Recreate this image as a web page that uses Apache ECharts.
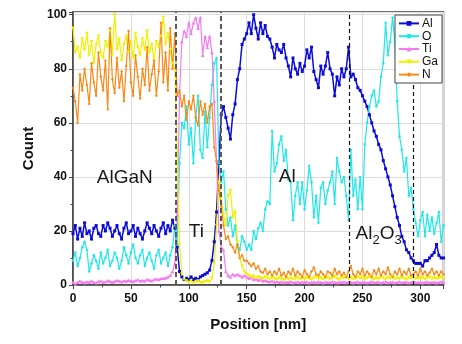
<!DOCTYPE html>
<html><head><meta charset="utf-8">
<script src="https://cdn.jsdelivr.net/npm/echarts@6/dist/echarts.min.js"></script>
<style>html,body{margin:0;padding:0;background:#fff}#c{width:462px;height:344px}</style>
</head><body><div id="c"></div>
<script>
// Position [nm] sampling grid
const positions = [
0,2,4,6,8,10,12,14,16,18,
20,22,24,26,28,30,32,34,36,38,
40,42,44,46,48,50,52,54,56,58,
60,62,64,66,68,70,72,74,76,78,
80,82,84,86,88,90,92,94,96,98,
100,102,104,106,108,110,112,114,116,118,
120,122,124,126,128,130,132,134,136,138,
140,142,144,146,148,150,152,154,156,158,
160,162,164,166,168,170,172,174,176,178,
180,182,184,186,188,190,192,194,196,198,
200,202,204,206,208,210,212,214,216,218,
220,222,224,226,228,230,232,234,236,238,
240,242,244,246,248,250,252,254,256,258,
260,262,264,266,268,270,272,274,276,278,
280,282,284,286,288,290,292,294,296,298,
300,302,304,306,308,310,312,314,316,318,
320];

const alCounts = [
19,22,17,21,18,23,19,20,17,21,
22,19,18,22,20,23,21,18,20,22,
19,17,21,23,19,20,22,18,21,19,
17,20,23,21,19,22,20,18,21,23,
19,22,20,24,21,14,5,3,2,2.5,
2,3,2,2.5,2,3,3.5,4,4.5,5.5,
9,16,27,45,63,66,62,58,54,63,
67,76,80,89,91,93,97,93,100,95,
91,97,93,96,92,91,88,84,89,87,
86,89,84,81,77,84,80,78,82,79,
81,87,84,88,79,76,73,81,78,81,
86,80,78,70,77,74,80,77,80,88,
77,78,76,73,72,70,68,66,63,60,
57,55,52,50,46,43,40,37,33,29,
25,22,18,16,13,12,10,9,8,8,
8,7,9,9,10,11,12,15,11,10,
10];

const oCounts = [
9,12,7,10,14,16,13,5,8,11,
9,6,12,8,10,13,7,9,12,10,
6,9,14,11,8,12,15,10,8,11,
13,7,10,12,9,6,11,13,8,10,
12,7,11,14,22,15,45,60,58,66,
52,58,45,62,70,50,47,64,51,62,
74,82,84,45,38,42,28,22,25,18,
22,15,13,18,16,13,15,13,20,17,
21,23,20,28,31,30,57,42,45,52,
55,46,50,39,38,24,33,38,30,38,
28,35,44,38,25,33,23,36,38,30,
35,38,42,30,47,42,38,40,33,24,
50,33,39,28,40,28,52,60,66,70,
72,66,68,77,82,97,85,90,99,90,
68,55,50,42,47,33,36,28,23,18,
24,27,18,26,20,25,19,23,27,16,
22];

const tiCounts = [
1,0.5,1,1.5,1,0.8,1.2,1,1.5,1,
0.8,1.3,1.5,1,1.2,1.6,1.4,1,1.3,1.7,
1.5,1.2,1.6,1.4,1.8,1.5,1.3,1.6,1.9,1.5,
1.7,1.5,2,1.8,1.6,2,2.2,2,2.4,2.5,
2.6,3,3.5,5,8,26,70,90,94,92,
97,93,97,99,95,99,85,92,88,92,
86,68,46,20,14,13,5,3.5,3,4,
3.5,4,3.5,3,3.5,3,2.5,2.8,2,2.2,
1.8,2,1.5,1.7,1.4,1.2,1.5,1.1,1.3,1,
1.2,0.9,1.1,1,1.3,0.8,1,1.2,0.9,1.1,
1,1.2,0.8,1,1.1,0.9,1.2,1,0.8,1.1,
1,0.9,1.2,1,0.8,1.1,1,1.2,0.9,1,
1.1,0.8,1,1.2,0.9,1,1.1,0.8,1,1.2,
0.9,1,1.1,0.8,1,1.2,0.9,1,1.1,0.8,
1,1.2,0.9,1,1.1,0.8,1,1.2,0.9,1,
1.1,0.8,1,1.2,0.9,1,1.1,0.8,1,1.2,
1];

const gaCounts = [
95,86,88,84,91,87,93,85,90,82,
89,92,86,84,90,88,94,85,100,87,
91,83,89,92,86,90,84,93,88,85,
91,87,94,86,89,83,90,88,92,99,
89,93,87,82,80,48,15,4,2,1.5,
1,1.5,0.8,1,1.5,1,0.8,1.2,1.5,1.2,
2.5,8,22,38,32,26,22,33,35,25,
27,16,10,7,5,4,3.5,3,3.2,2.5,
3,2.6,2.4,3,2.5,2.2,2.8,2.4,2,2.6,
2.3,1.8,2.5,2.2,2.8,2,2.4,2.7,2.1,2.5,
2.2,2.8,2.4,2,2.6,3,2.3,2.7,2.1,2.5,
2.9,2.2,2.6,3.1,2.4,2,2.8,2.5,3,2.3,
2.7,2.1,2.5,3,2.4,2.8,2.2,2.6,3.1,2.4,
2,2.7,2.3,2.9,2.5,2.1,2.8,2.4,3,2.2,
2.6,2.3,2.9,2.5,2,2.7,2.4,3,2.2,2.6,
2.4,2.8,2.1,2.6,3,2.3,2.7,2.2,2.5,2.9,
2.4];

const nCounts = [
73,68,60,78,72,80,74,67,82,75,
70,86,77,72,83,65,95,76,71,84,
73,79,68,81,94,75,70,85,77,69,
80,74,88,72,78,83,70,79,97,75,
86,72,95,80,93,70,72,66,70,61,
68,65,70,62,59,68,63,67,60,66,
67,51,46,35,29,22,17,18,15,14,
12,15,10,11,9,9,8,7,8,6,
7,5,4.5,6,4,5,3.5,5,4,6,
3.5,4.5,3,5,4,6,3.5,5,4,3,
5.5,4,3,5,6.5,4,3.5,5,4,3,
5,4.5,3.5,6,4,5,3.5,4.5,3,5,
7,4,3,5,4,6,3.5,5,4,3,
5.5,4,6,3.5,5,4,6.5,4,3,5,
4,6,3.5,5,4,6,3.5,4,5,3.5,
6,4,5,3.5,4.5,6,4,5,3.5,5,
4];

const seriesNames = ['Al', 'O', 'Ti', 'Ga', 'N'];
const xTicks = [0, 50, 100, 150, 200, 250, 300];
const yTicks = [0, 20, 40, 60, 80, 100];
const boundaries = [89, 127.5, 239, 293.5];
const lastBoundaryTop = 75;
const regionNames = ['AlGaN', 'Ti', 'Al', 'Al2O3'];
const regionAnchors = [[44.7, 39.8], [106.6, 19.8], [185, 40], [264, 19.5]];

const FONT = '"Liberation Sans", Arial, sans-serif';

function mk(name, vals, color, symbol, size, width, rotate) {
  return {
    name: name, type: 'line',
    data: positions.map((x, i) => [x, vals[i]]),
    symbol: symbol, symbolSize: size, symbolRotate: rotate || 0,
    showSymbol: true, showAllSymbol: true,
    lineStyle: { color: color, width: width },
    itemStyle: { color: color },
    emphasis: { disabled: true },
    animation: false
  };
}

const chart = echarts.init(document.getElementById('c'), null, { renderer: 'canvas' });
const dashGrey = { color: '#5a5a5a', width: 2, type: [5, 3] };
const dashBlack = { color: '#111', width: 1.2, type: [4, 3] };

chart.setOption({
  animation: false,
  backgroundColor: '#fff',
  textStyle: { fontFamily: FONT },
  grid: { left: 73, right: 18.5, top: 12, bottom: 59, show: true, borderColor: '#444', borderWidth: 1.5, backgroundColor: 'transparent' },
  legend: {
    data: seriesNames, orient: 'vertical', right: 20, top: 15,
    itemWidth: 20, itemHeight: 6, itemGap: 0,
    padding: [2, 4, 2, 3],
    backgroundColor: '#fff', borderColor: '#444', borderWidth: 1,
    textStyle: { fontSize: 12, lineHeight: 12.8, color: '#111', fontFamily: FONT, padding: [0, 0, 0, -2] }
  },
  xAxis: {
    type: 'value', min: 0, max: 320, interval: 50,
    name: 'Position [nm]', nameLocation: 'middle', nameGap: 32,
    nameTextStyle: { fontSize: 15, fontWeight: 'bold', color: '#111', fontFamily: FONT },
    axisLine: { show: true, lineStyle: { color: '#444', width: 1.5 } },
    axisTick: { show: true, length: 4, lineStyle: { color: '#444' } },
    minorTick: { show: true, splitNumber: 2, length: 2.5, lineStyle: { color: '#444' } },
    splitLine: { show: true, lineStyle: { color: '#dcdcdc', width: 1 } },
    axisLabel: { fontSize: 12, fontWeight: 'bold', color: '#111', margin: 8, fontFamily: FONT,
      formatter: v => xTicks.indexOf(v) >= 0 ? String(v) : '' }
  },
  yAxis: {
    type: 'value', min: 0, max: 101, interval: 20,
    name: 'Count', nameLocation: 'middle', nameGap: 37, nameRotate: 90,
    nameTextStyle: { fontSize: 15, fontWeight: 'bold', color: '#111', fontFamily: FONT },
    axisLine: { show: true, lineStyle: { color: '#444', width: 1.5 } },
    axisTick: { show: true, length: 4, lineStyle: { color: '#444' } },
    minorTick: { show: true, splitNumber: 2, length: 2.5, lineStyle: { color: '#444' } },
    splitLine: { show: true, lineStyle: { color: '#dcdcdc', width: 1 } },
    axisLabel: { fontSize: 12, fontWeight: 'bold', color: '#111', margin: 6, fontFamily: FONT,
      formatter: v => yTicks.indexOf(v) >= 0 ? String(v) : '' }
  },
  series: [
    mk(seriesNames[0], alCounts, '#0c0cd6', 'rect', 3, 1.5),
    mk(seriesNames[1], oCounts, '#1ee8e8', 'circle', 2.5, 1.2),
    mk(seriesNames[2], tiCounts, '#f47cf0', 'triangle', 3.5, 1.2),
    mk(seriesNames[3], gaCounts, '#f0f000', 'triangle', 3.5, 1.2, 180),
    mk(seriesNames[4], nCounts, '#fa8814', 'diamond', 3, 1.2),
    {
      name: 'annotations', type: 'line', data: [], silent: true, animation: false,
      markLine: {
        symbol: 'none', silent: true, animation: false, label: { show: false },
        data: [
          { xAxis: boundaries[0], lineStyle: dashGrey },
          { xAxis: boundaries[1], lineStyle: dashGrey },
          { xAxis: boundaries[2], lineStyle: dashBlack },
          [{ coord: [boundaries[3], 0], lineStyle: dashBlack }, { coord: [boundaries[3], lastBoundaryTop] }]
        ]
      },
      markPoint: {
        symbol: 'circle', symbolSize: 0, silent: true, animation: false,
        label: {
          show: true, position: 'inside', color: '#1a1a1a', fontSize: 19, fontFamily: FONT,
          rich: {
            n: { fontSize: 19, color: '#1a1a1a', fontFamily: FONT, lineHeight: 22, verticalAlign: 'bottom' },
            s: { fontSize: 13, color: '#1a1a1a', fontFamily: FONT, lineHeight: 22, verticalAlign: 'bottom', padding: [0, 0, -4, 0] }
          }
        },
        data: [
          { coord: regionAnchors[0], label: { formatter: regionNames[0] } },
          { coord: regionAnchors[1], label: { formatter: regionNames[1] } },
          { coord: regionAnchors[2], label: { formatter: regionNames[2] } },
          { coord: regionAnchors[3], label: { formatter: '{n|Al}{s|2}{n|O}{s|3}' } }
        ]
      }
    }
  ]
});
</script>
</body></html>
